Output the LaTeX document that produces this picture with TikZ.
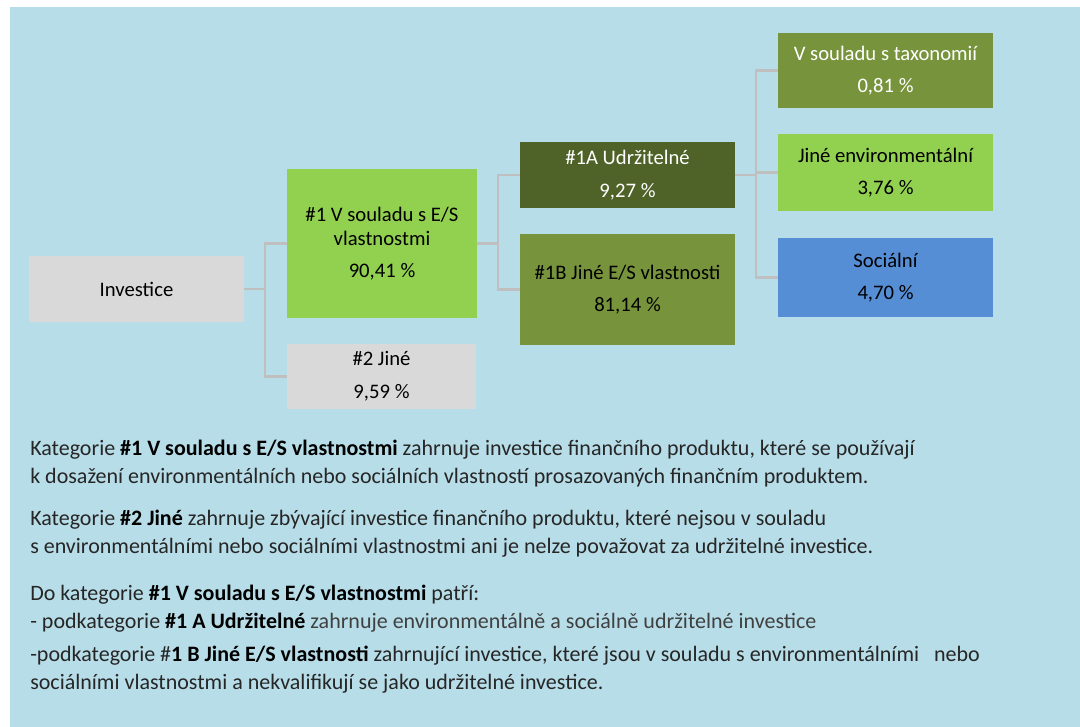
\documentclass[tikz,border=0pt]{standalone}
\usepackage{fontspec}
\setmainfont{Carlito}
\usepackage{xcolor}
\definecolor{bgblue}{HTML}{B7DDE8}
\definecolor{boxgray}{HTML}{D9D9D9}
\definecolor{lightgreen}{HTML}{92D050}
\definecolor{darkolive}{HTML}{4F6228}
\definecolor{olive}{HTML}{77933C}
\definecolor{socblue}{HTML}{558ED5}
\definecolor{linkgray}{HTML}{BFBFBF}
\definecolor{textgray}{HTML}{262626}
\definecolor{softgray}{HTML}{404040}

\begin{document}
\begin{tikzpicture}[
    x=0.75pt, y=-0.75pt,
    box/.style={rectangle, inner sep=0pt, align=center, font=\fontsize{15.5}{18}\selectfont},
    link/.style={draw=linkgray, line width=1.7pt},
    para/.style={anchor=base west, align=left, inner sep=0pt, text=textgray, font=\fontsize{16.5}{20.3}\selectfont}
]
    \useasboundingbox (0,0) rectangle (1080,727);
    \fill[bgblue] (10,7) rectangle (1080,727);

    % First level
    \node[box, fill=boxgray, minimum width=215*0.75pt, minimum height=66*0.75pt] (inv) at (136.5, 289) {Investice};

    % Second level
    \node[box, fill=lightgreen, minimum width=190*0.75pt, minimum height=149*0.75pt] (es) at (382, 243.5)
        {\#1 V souladu s E/S\\ vlastnostmi\\[6.5pt] 90,41 \%};
    \node[box, fill=boxgray, minimum width=189*0.75pt, minimum height=65*0.75pt] (jine) at (381.5, 376.5)
        {\#2 Jiné\\[6.5pt] 9,59 \%};

    % Third level
    \node[box, fill=darkolive, text=white, minimum width=215*0.75pt, minimum height=66*0.75pt] (udr) at (627.5, 175)
        {\#1A Udržitelné\\[6.5pt] 9,27 \%};
    \node[box, fill=olive, minimum width=215*0.75pt, minimum height=111*0.75pt] (jes) at (627.5, 289.5)
        {\#1B Jiné E/S vlastnosti\\[6.5pt] 81,14 \%};

    % Fourth level
    \node[box, fill=olive, text=white, minimum width=215*0.75pt, minimum height=75*0.75pt] (tax) at (885.5, 70.5)
        {V souladu s taxonomií\\[6.5pt] 0,81 \%};
    \node[box, fill=lightgreen, minimum width=215*0.75pt, minimum height=77*0.75pt] (env) at (885.5, 172.5)
        {Jiné environmentální\\[6.5pt] 3,76 \%};
    \node[box, fill=socblue, minimum width=215*0.75pt, minimum height=79*0.75pt] (soc) at (885.5, 277.5)
        {Sociální\\[6.5pt] 4,70 \%};

    % Connections
    \foreach \c in {es,jine}
        \draw[link] (inv.east) -- ++(21,0) |- (\c.west);
    \foreach \c in {udr,jes}
        \draw[link] (es.east) -- ++(21,0) |- (\c.west);
    \foreach \c in {tax,env,soc}
        \draw[link] (udr.east) -- ++(21,0) |- (\c.west);

    % Explanations (anchored at the baseline of the last line)
    \node[para] (p1) at (30, 483) {Kategorie \textbf{\color{black}\#1 V souladu s E/S vlastnostmi} zahrnuje investice finančního produktu, které se používají\\
        k dosažení environmentálních nebo sociálních vlastností prosazovaných finančním produktem.};
    \node[para] (p2) at (30, 553) {Kategorie \textbf{\color{black}\#2 Jiné} zahrnuje zbývající investice finančního produktu, které nejsou v souladu\\
        s environmentálními nebo sociálními vlastnostmi ani je nelze považovat za udržitelné investice.};
    \node[para] (p3) at (30, 628) {Do kategorie \textbf{\color{black}\#1 V souladu s E/S vlastnostmi} patří:\\
        - podkategorie \textbf{\color{black}\#1 A Udržitelné} {\color{softgray}zahrnuje environmentálně a sociálně udržitelné investice}};
    \node[para] (p4) at (30, 689) {-podkategorie \#\textbf{\color{black}1 B Jiné E/S vlastnosti} zahrnující investice, které jsou v souladu s environmentálními \ \ nebo\\
        sociálními vlastnostmi a nekvalifikují se jako udržitelné investice.};
\end{tikzpicture}
\end{document}
